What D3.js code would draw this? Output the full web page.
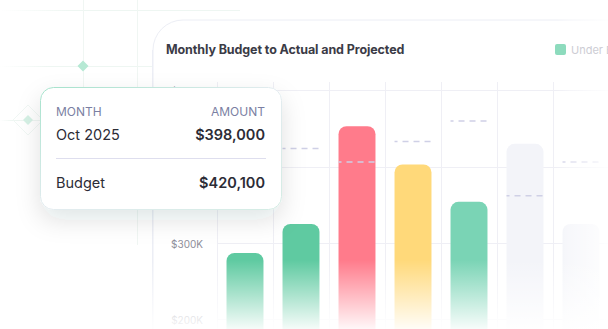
<!DOCTYPE html>
<html><head><meta charset="utf-8">
<script src="https://cdn.jsdelivr.net/npm/d3@7/dist/d3.min.js"></script>
<style>
html,body{margin:0;padding:0;background:#fff;overflow:hidden;}
svg{display:block;font-family:Inter,"Noto Sans",sans-serif;}
</style></head>
<body>
<svg id="chart" width="608" height="329"></svg>
<script>
// ---- data (values in $K) ----
const months = ["Jul 2025","Aug 2025","Sep 2025","Oct 2025","Nov 2025","Dec 2025","Jan 2026"];
const actual = [287, 325, 453, 403, 354, 430, 325];
const budget = [420, 424, 406, 433, 460, 362, 406];
const status = ["under","under","over","near","under2","projected","projected"];
const yTicks = [200, 300, 400, 500];
const title = "Monthly Budget to Actual and Projected";
const legendLabels = ["Under Budget"];
const tipMonth = "Oct 2025";
const tipAmount = 398000;
const tipBudget = 420100;

const colors = {under:"#5fcaa1", under2:"#7ad4b5", over:"#ff7b8b", near:"#ffd97a", projected:"#f3f4f9"};

const svg = d3.select("#chart");
const W = 608, H = 329;
const defs = svg.append("defs");

// background decorations
const dg = defs.append("linearGradient").attr("id","decoH").attr("x1",0).attr("x2",1).attr("y1",0).attr("y2",0);
dg.append("stop").attr("offset",0).attr("stop-color","#eef6f2").attr("stop-opacity",0);
dg.append("stop").attr("offset",0.3).attr("stop-color","#eef6f2").attr("stop-opacity",1);
const deco = svg.append("g");
const decoColor = "#f0f6f3";
[[0,10,240,10],[0,66,160,66],[0,120,40,120]].forEach(l=>{
  deco.append("rect").attr("x",l[0]).attr("y",l[1]).attr("width",l[2]-l[0]).attr("height",1).attr("fill","url(#decoH)");
});
[[83,0,83,88],[137,0,137,88],[137,210,137,245]].forEach(l=>{
  deco.append("line").attr("x1",l[0]+0.5).attr("y1",l[1]).attr("x2",l[2]+0.5).attr("y2",l[3])
    .attr("stroke",decoColor).attr("stroke-width",1);
});
function diamond(cx,cy,r){return `M${cx},${cy-r}L${cx+r},${cy}L${cx},${cy+r}L${cx-r},${cy}Z`;}
deco.append("path").attr("d",diamond(83,66,5.5)).attr("fill","#b6e9d4");
deco.append("path").attr("d",diamond(28,120,15)).attr("fill","none").attr("stroke","#f0f7f4");
deco.append("path").attr("d",diamond(28,120,5)).attr("fill","#d5f1e5");

// card
svg.append("rect").attr("x",153).attr("y",20).attr("width",520).attr("height",420).attr("rx",30)
  .attr("fill","#fff").attr("stroke","#eceef5");

svg.append("text").attr("x",166).attr("y",54).text(title)
  .attr("font-size",12.5).attr("font-weight",700).attr("fill","#3b3b46").attr("letter-spacing",-0.1);

// scales
const x = d3.scaleBand().domain(months).range([217, 609]).paddingInner(0.34).paddingOuter(0.17);
const y = d3.scaleLinear().domain([200, 500]).range([319.3, 90.4]);
const step = x.step();

// grid
const grid = svg.append("g");
months.forEach((m,i)=>{
  const gx = Math.round(x(m) - step*0.17) + 0.5;
  grid.append("line").attr("x1",gx).attr("x2",gx).attr("y1",82).attr("y2",H).attr("stroke","#efeff5");
});
grid.append("line").attr("x1",152.5).attr("x2",152.5).attr("y1",50).attr("y2",H).attr("stroke","#eceef5");
yTicks.forEach(t=>{
  const gy = Math.round(y(t)) + 0.5;
  grid.append("line").attr("x1",217).attr("x2",W).attr("y1",gy).attr("y2",gy).attr("stroke","#efeff5");
});

// y axis labels via d3 axis
const yAxis = svg.append("g").attr("transform","translate(203,0)")
  .call(d3.axisLeft(y).tickValues(yTicks).tickSize(0).tickPadding(0).tickFormat(d=>`$${d}K`));
yAxis.select(".domain").remove();
yAxis.selectAll("text").attr("font-size",10).attr("fill","#8e8e9a").attr("font-family","Inter,sans-serif").attr("dy","0.4em");

// bars
svg.append("g").selectAll("rect").data(months).join("rect")
  .attr("x",d=>x(d)).attr("width",x.bandwidth())
  .attr("y",(d,i)=>y(actual[i])).attr("height",(d,i)=>H + 20 - y(actual[i]))
  .attr("rx",8).attr("fill",(d,i)=>colors[status[i]]);

// budget dashes
svg.append("g").selectAll("line").data(months).join("line")
  .attr("x1",d=>x(d)).attr("x2",d=>x(d)+x.bandwidth())
  .attr("y1",(d,i)=>y(budget[i])).attr("y2",(d,i)=>y(budget[i]))
  .attr("stroke","#cfd0e6").attr("stroke-width",1.5)
  .attr("stroke-dasharray","6 5").attr("stroke-dashoffset",3);

// right fade
const rg = defs.append("linearGradient").attr("id","rfade").attr("x1",0).attr("x2",1).attr("y1",0).attr("y2",0);
rg.append("stop").attr("offset",0).attr("stop-color","#fff").attr("stop-opacity",0);
rg.append("stop").attr("offset",0.25).attr("stop-color","#fff").attr("stop-opacity",0.35);
rg.append("stop").attr("offset",1).attr("stop-color","#fff").attr("stop-opacity",0.9);
svg.append("rect").attr("x",556).attr("y",0).attr("width",52).attr("height",H).attr("fill","url(#rfade)");

// legend (drawn above fade, own light tint)
svg.append("rect").attr("x",555).attr("y",44).attr("width",11).attr("height",11).attr("rx",2).attr("fill","#8ddbbd");
svg.append("text").attr("x",571).attr("y",53.5).text(legendLabels[0]).attr("font-size",11).attr("fill","#cdcdd4");

// bottom fade
const bg = defs.append("linearGradient").attr("id","bfade").attr("x1",0).attr("x2",0).attr("y1",0).attr("y2",1);
bg.append("stop").attr("offset",0).attr("stop-color","#fff").attr("stop-opacity",0);
bg.append("stop").attr("offset",1).attr("stop-color","#fff").attr("stop-opacity",0.94);
svg.append("rect").attr("x",0).attr("y",260).attr("width",W).attr("height",H-260).attr("fill","url(#bfade)");

// tooltip
const f = defs.append("filter").attr("id","shadow").attr("x","-30%").attr("y","-30%").attr("width","160%").attr("height","190%");
f.append("feDropShadow").attr("dx",0).attr("dy",10).attr("stdDeviation",12).attr("flood-color","#1e2a3a").attr("flood-opacity",0.12);
const tg = defs.append("linearGradient").attr("id","tborder").attr("x1",0).attr("y1",0).attr("x2",1).attr("y2",1);
tg.append("stop").attr("offset",0).attr("stop-color","#a4e2cb");
tg.append("stop").attr("offset",0.5).attr("stop-color","#e4ecf0");
tg.append("stop").attr("offset",1).attr("stop-color","#d3ece4");

const tip = svg.append("g");
tip.append("rect").attr("x",40.5).attr("y",87.5).attr("width",241).attr("height",122).attr("rx",13)
  .attr("fill","#fff").attr("stroke","url(#tborder)").attr("filter","url(#shadow)");
const fmt = d3.format("$,");
tip.append("text").attr("x",56).attr("y",116).text("MONTH").attr("font-size",12).attr("fill","#7b7fa3");
tip.append("text").attr("x",265).attr("y",116).attr("text-anchor","end").text("AMOUNT").attr("font-size",12).attr("fill","#7b7fa3");
tip.append("text").attr("x",56).attr("y",140).text(tipMonth).attr("font-size",14.5).attr("fill","#2c2c36");
tip.append("text").attr("x",265).attr("y",140).attr("text-anchor","end").text(fmt(tipAmount)).attr("font-size",14.5).attr("font-weight",600).attr("fill","#2c2c36");
tip.append("line").attr("x1",56).attr("x2",266).attr("y1",158.5).attr("y2",158.5).attr("stroke","#dedeee");
tip.append("text").attr("x",56).attr("y",188).text("Budget").attr("font-size",14.5).attr("fill","#2c2c36");
tip.append("text").attr("x",265).attr("y",188).attr("text-anchor","end").text(fmt(tipBudget)).attr("font-size",14.5).attr("font-weight",600).attr("fill","#2c2c36");
</script>
</body></html>
